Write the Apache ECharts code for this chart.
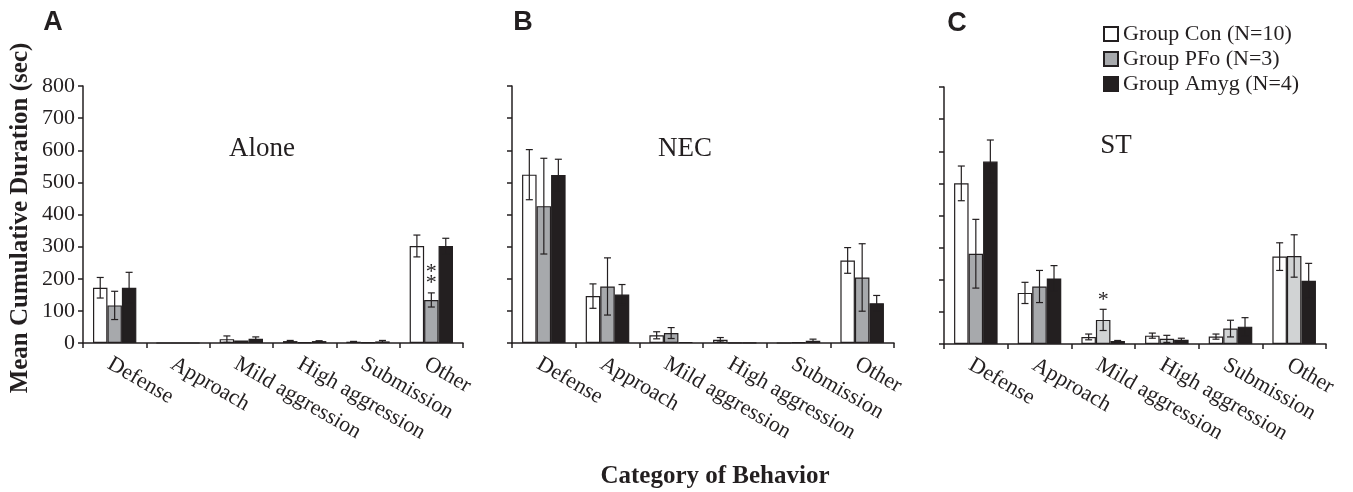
<!DOCTYPE html>
<html><head><meta charset="utf-8">
<script src="https://cdn.jsdelivr.net/npm/echarts@6/dist/echarts.min.js"></script>
<style>html,body{margin:0;padding:0;background:#fff}#c{width:1353px;height:492px}</style>
</head><body><div id="c"></div>
<script>
// ---------- data ----------
const categories = ['Defense', 'Approach', 'Mild aggression', 'High aggression', 'Submission', 'Other'];
const groupNames = ['Group Con (N=10)', 'Group PFo (N=3)', 'Group Amyg (N=4)'];
const panelTitles = ['Alone', 'NEC', 'ST'];
const panelLetters = ['A', 'B', 'C'];
const yMin = 0, yMax = 800, yStep = 100;

// Panel A: Alone
const aloneCon = [172, 0, 12, 6, 4, 302];
const aloneConErr = [32, 0, 10, 2, 1, 34];
const alonePFo = [117, 0, 8, 2, 2, 134];
const alonePFoErr = [44, 0, 0, 0, 0, 22];
const aloneAmyg = [172, 0, 13, 6, 5, 302];
const aloneAmygErr = [48, 0, 6, 1, 3, 24];
const alonePFoSig = ['', '', '', '', '', '**'];

// Panel B: NEC
const necCon = [524, 146, 24, 10, 0, 257];
const necConErr = [78, 38, 11, 7, 0, 40];
const necPFo = [426, 176, 31, 1, 2, 204];
const necPFoErr = [149, 89, 17, 0, 0, 105];
const necAmyg = [523, 151, 3, 1, 7, 124];
const necAmygErr = [49, 31, 0, 0, 5, 24];
const necPFoSig = ['', '', '', '', '', ''];

// Panel C: ST
const stCon = [500, 159, 22, 26, 23, 272];
const stConErr = [54, 33, 9, 8, 8, 43];
const stPFo = [281, 179, 75, 16, 48, 274];
const stPFoErr = [107, 50, 33, 11, 26, 66];
const stAmyg = [568, 204, 9, 13, 54, 197];
const stAmygErr = [67, 40, 2, 5, 28, 54];
const stPFoSig = ['', '', '*', '', '', ''];
const stPFoShade = ['dark', 'dark', 'light', 'light', 'light', 'light'];

// ---------- styling ----------
const INK = '#231f20';
const WHITE = '#ffffff';
const GREY = '#a7a9ac';
const LIGHT = '#d1d3d4';
const SERIF = '"Liberation Serif", "Times New Roman", serif';
const SANS = '"Liberation Sans", Arial, sans-serif';
const GAP = 0.316;

const panels = [
  { con: aloneCon, conErr: aloneConErr, pfo: alonePFo, pfoErr: alonePFoErr, amyg: aloneAmyg, amygErr: aloneAmygErr, sig: alonePFoSig, shade: null },
  { con: necCon, conErr: necConErr, pfo: necPFo, pfoErr: necPFoErr, amyg: necAmyg, amygErr: necAmygErr, sig: necPFoSig, shade: null },
  { con: stCon, conErr: stConErr, pfo: stPFo, pfoErr: stPFoErr, amyg: stAmyg, amygErr: stAmygErr, sig: stPFoSig, shade: stPFoShade }
];

const grids = [
  { left: 83, top: 86, width: 380, height: 257 },
  { left: 512, top: 86, width: 382, height: 257 },
  { left: 944, top: 87, width: 382, height: 257 }
];

function errRender(groupIdx, sigArr) {
  return function (params, api) {
    const cat = api.value(0), v = api.value(1), e = api.value(2);
    const band = api.size([1, 0])[0];
    const bw = band * (1 - GAP) / 3;
    const base = api.coord([cat, v]);
    const x = base[0] + (groupIdx - 1) * bw;
    const children = [];
    let topY = base[1];
    if (e > 0) {
      const t = api.coord([cat, v + e])[1];
      const b = api.coord([cat, Math.max(0, v - e)])[1];
      topY = t;
      const st = { stroke: INK, lineWidth: 1.2 };
      children.push({ type: 'line', shape: { x1: x, y1: t, x2: x, y2: b }, style: st });
      children.push({ type: 'line', shape: { x1: x - 3.5, y1: t, x2: x + 3.5, y2: t }, style: st });
      children.push({ type: 'line', shape: { x1: x - 3.5, y1: b, x2: x + 3.5, y2: b }, style: st });
    }
    const s = sigArr ? sigArr[params.dataIndex] : '';
    if (s) {
      children.push({
        type: 'text',
        style: {
          text: s.split('').join('\n'), x: x, y: topY - 4,
          textAlign: 'center', textVerticalAlign: 'bottom',
          font: '22px ' + SERIF, fill: INK, lineHeight: 11
        }
      });
    }
    return { type: 'group', children: children };
  };
}

const xAxes = [], yAxes = [], series = [];
panels.forEach((p, k) => {
  xAxes.push({
    type: 'category', gridIndex: k, data: categories,
    axisLine: { lineStyle: { color: INK, width: 1.5 } },
    axisTick: { show: true, length: 5, lineStyle: { color: INK, width: 1.5 } },
    axisLabel: {
      interval: 0, rotate: -30, align: 'left', verticalAlign: 'top', margin: 10,
      fontSize: 22, fontFamily: SERIF, color: INK
    },
    splitLine: { show: false }
  });
  yAxes.push({
    type: 'value', gridIndex: k, min: yMin, max: yMax, interval: yStep,
    axisLine: { show: true, lineStyle: { color: INK, width: 1.5 } },
    axisTick: { show: true, length: 5, lineStyle: { color: INK, width: 1.5 } },
    axisLabel: { show: k === 0, fontSize: 22, fontFamily: SERIF, color: INK, margin: 8 },
    splitLine: { show: false }
  });
  const vals = [p.con, p.pfo, p.amyg];
  const errs = [p.conErr, p.pfoErr, p.amygErr];
  const fills = [WHITE, GREY, INK];
  vals.forEach((arr, g) => {
    series.push({
      type: 'bar', name: groupNames[g], xAxisIndex: k, yAxisIndex: k,
      barGap: '0%', barCategoryGap: (GAP * 100) + '%',
      itemStyle: { color: fills[g], borderColor: INK, borderWidth: 1.2 },
      emphasis: { disabled: true },
      data: arr.map((v, i) => {
        if (g === 1 && p.shade) {
          return { value: v, itemStyle: { color: p.shade[i] === 'light' ? LIGHT : GREY } };
        }
        return v;
      }),
      z: 2
    });
  });
  vals.forEach((arr, g) => {
    series.push({
      type: 'custom', name: 'err-' + k + '-' + g, xAxisIndex: k, yAxisIndex: k,
      renderItem: errRender(g, g === 1 ? p.sig : null),
      data: arr.map((v, i) => [i, v, errs[g][i]]),
      encode: { x: 0, y: 1 },
      silent: true, z: 5
    });
  });
});

const graphics = [];
const titlePos = [[262, 149], [685, 149], [1116, 146]];
panelTitles.forEach((t, k) => graphics.push({
  type: 'text', x: titlePos[k][0], y: titlePos[k][1],
  style: { text: t, font: '27px ' + SERIF, fill: INK, textAlign: 'center', textVerticalAlign: 'middle' }
}));
const letterPos = [[53, 23], [523, 23], [957, 24]];
panelLetters.forEach((t, k) => graphics.push({
  type: 'text', x: letterPos[k][0], y: letterPos[k][1],
  style: { text: t, font: 'bold 27px ' + SANS, fill: INK, textAlign: 'center', textVerticalAlign: 'middle' }
}));
graphics.push({
  type: 'text', x: 21, y: 218, rotation: Math.PI / 2,
  style: { text: 'Mean Cumulative Duration (sec)', font: 'bold 25px ' + SERIF, fill: INK, textAlign: 'center', textVerticalAlign: 'middle' }
});
graphics.push({
  type: 'text', x: 715, y: 477,
  style: { text: 'Category of Behavior', font: 'bold 25px ' + SERIF, fill: INK, textAlign: 'center', textVerticalAlign: 'middle' }
});

const chart = echarts.init(document.getElementById('c'), null, { renderer: 'canvas' });
chart.setOption({
  animation: false,
  backgroundColor: '#ffffff',
  grid: grids,
  xAxis: xAxes,
  yAxis: yAxes,
  legend: {
    data: groupNames, orient: 'vertical', left: 1098, top: 18,
    icon: 'rect', itemWidth: 14, itemHeight: 14, itemGap: 3,
    selectedMode: false,
    textStyle: { fontSize: 22, fontFamily: SERIF, color: INK, lineHeight: 22 }
  },
  graphic: graphics,
  series: series
});
</script>
</body></html>
